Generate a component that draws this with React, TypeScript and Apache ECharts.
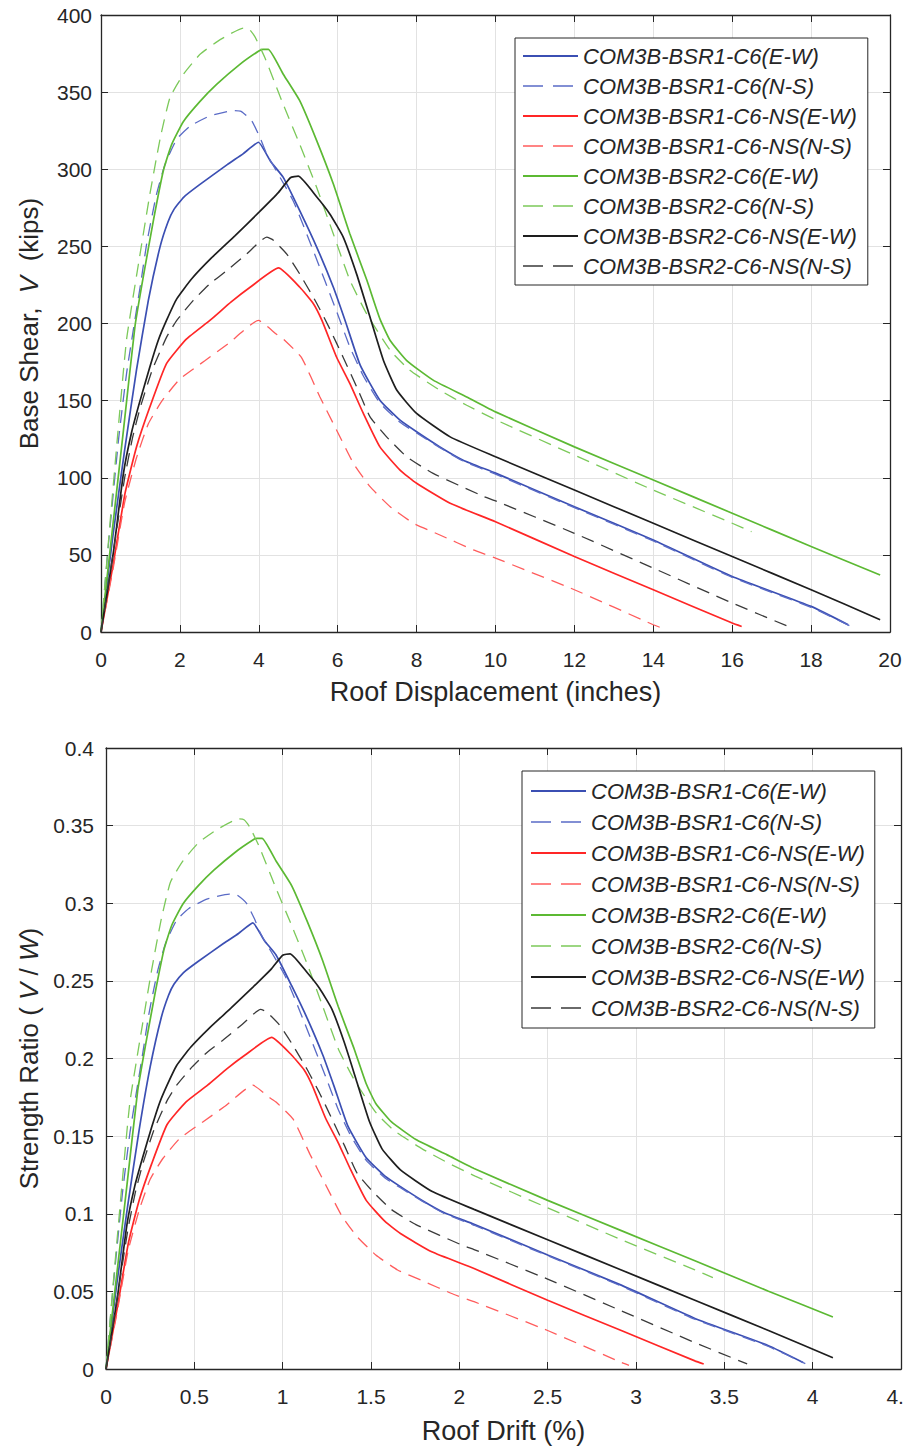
import React, { useEffect, useRef } from "react";
import * as echarts from "echarts";

// ---- Data (top chart: roof displacement [in] vs base shear [kips]) ----
const SERIES_NAMES = [
  "COM3B-BSR1-C6(E-W)",
  "COM3B-BSR1-C6(N-S)",
  "COM3B-BSR1-C6-NS(E-W)",
  "COM3B-BSR1-C6-NS(N-S)",
  "COM3B-BSR2-C6(E-W)",
  "COM3B-BSR2-C6(N-S)",
  "COM3B-BSR2-C6-NS(E-W)",
  "COM3B-BSR2-C6-NS(N-S)",
];

const BSR1_C6_EW: [number, number][] = [
  [0, 0], [0.3, 62], [0.6, 118], [0.9, 170], [1.2, 215], [1.5, 250], [1.7, 266], [1.85, 274],
  [2.1, 282], [2.5, 290], [3.2, 303], [3.6, 310], [3.99, 317.5], [4.3, 305], [4.62, 294.7],
  [5.04, 273], [5.47, 249.4], [5.89, 223.5], [6.2, 201], [6.57, 173], [7.07, 150.3], [7.58, 137.3],
  [8.0, 129.8], [8.59, 120], [9.18, 111.4], [10.0, 103], [12, 81.2], [14, 59.7], [16, 36],
  [18, 16.6], [18.94, 4.7],
];
const BSR1_C6_NS: [number, number][] = [
  [0, 0], [0.2, 60], [0.45, 126], [0.65, 168], [0.82, 196], [1.0, 225], [1.16, 252], [1.4, 283],
  [1.62, 303], [1.92, 319.5], [2.26, 328], [2.76, 334.6], [3.35, 338], [3.55, 337.5], [3.82, 331.4],
  [4.03, 320.6], [4.2, 310], [4.87, 279.6], [5.38, 247.3], [5.97, 208], [6.31, 184.7], [6.65, 166],
  [7.07, 148.5], [7.58, 136], [8.0, 129], [8.59, 119.5], [9.18, 110.8], [10.0, 102.3], [12, 80.6],
  [14, 59], [16, 35.4], [18, 16], [19.0, 3.8],
];
const BSR1_C6_NS_EW: [number, number][] = [
  [0, 0], [0.31, 44], [0.61, 90], [0.9, 120], [1.24, 146], [1.66, 174], [2.17, 190], [2.76, 202],
  [3.3, 214], [3.78, 223.5], [4.5, 236], [5.04, 223.5], [5.38, 213], [5.6, 202], [5.97, 178.3],
  [6.31, 161], [6.65, 141.7], [7.07, 120], [7.58, 105], [8.0, 96.4], [8.85, 83.4], [10.0, 71.5],
  [12, 48.9], [14, 27.4], [16, 5.8], [16.24, 3.6],
];
const BSR1_C6_NS_NS: [number, number][] = [
  [0, 0], [0.3, 40], [0.6, 84], [0.9, 113], [1.2, 135], [1.55, 150], [2.0, 164], [2.64, 176],
  [3.23, 187], [3.99, 202], [4.45, 193], [4.62, 190], [5.08, 178], [5.55, 152.4], [5.97, 131],
  [6.4, 109.3], [6.82, 94.2], [7.33, 81.2], [7.92, 70.5], [8.59, 62.9], [9.44, 53.2], [10.0, 47.9],
  [12, 27.4], [14, 4.7], [14.21, 2.6],
];
const BSR2_C6_EW: [number, number][] = [
  [0, 0], [0.23, 53], [0.57, 131], [0.86, 198], [1.07, 230], [1.33, 267], [1.58, 299], [1.79, 316],
  [2.09, 331], [2.51, 344], [2.93, 355], [3.52, 368], [3.99, 376.5], [4.1, 377.7], [4.24, 377.7],
  [4.62, 361.6], [5.04, 344.3], [5.47, 318.4], [5.89, 290.4], [6.31, 258], [6.74, 228], [7.07, 203],
  [7.33, 189], [7.75, 176], [8.42, 163.3], [9.27, 152.4], [10.0, 142.7], [12, 120], [14, 98.5],
  [16, 77], [18, 55.4], [19.75, 37],
];
const BSR2_C6_NS: [number, number][] = [
  [0, 0], [0.2, 62], [0.44, 133], [0.65, 190], [0.99, 245], [1.24, 284], [1.5, 320], [1.75, 346.5],
  [2.09, 361.6], [2.51, 374.5], [3.02, 384], [3.61, 391.5], [3.75, 391], [3.9, 386], [4.16, 372],
  [4.62, 342], [5.04, 316], [5.47, 288], [5.89, 258], [6.31, 228], [6.74, 206], [7.33, 182.6],
  [7.83, 169.7], [8.59, 156.7], [9.27, 147], [10.03, 137.3], [12, 114.7], [14, 92], [16, 70.5],
  [16.49, 65],
];
const BSR2_C6_NS_EW: [number, number][] = [
  [0, 0], [0.31, 51], [0.57, 103], [0.78, 130], [0.99, 150], [1.24, 172], [1.45, 189], [1.66, 202],
  [1.92, 216], [2.3, 229], [2.8, 242.5], [3.4, 257], [4.0, 272], [4.5, 285], [4.8, 294.5], [5.0, 295.5],
  [5.47, 282], [5.8, 271], [6.14, 256], [6.48, 232], [6.82, 204], [7.16, 176], [7.5, 156.7],
  [8.0, 141.7], [8.85, 126.5], [10.0, 113.6], [12, 92], [14, 70.5], [16, 48.9], [18, 27.4],
  [19.75, 8],
];
const BSR2_C6_NS_NS: [number, number][] = [
  [0, 0], [0.3, 50], [0.6, 100], [0.8, 126], [1.0, 146], [1.3, 170], [1.66, 191], [1.92, 202],
  [2.34, 215], [2.76, 225.7], [3.19, 234.3], [3.69, 245], [4.2, 256], [4.37, 254], [4.71, 245],
  [5.04, 232], [5.47, 213], [5.8, 196.5], [6.14, 178], [6.48, 159], [6.82, 139.5], [7.24, 126.5],
  [7.75, 113.6], [8.42, 102.8], [9.69, 88], [10.0, 85], [12, 64], [14, 41.4], [16, 18.8],
  [17.42, 3.6],
];

// Bottom chart is the same pushover data normalised (drift % = disp / roof height, ratio = V / W)
const ROOF_HEIGHT_IN = 480;
const SEISMIC_WEIGHT_KIPS = 1105;

const SERIES_DATA = [
  BSR1_C6_EW, BSR1_C6_NS, BSR1_C6_NS_EW, BSR1_C6_NS_NS,
  BSR2_C6_EW, BSR2_C6_NS, BSR2_C6_NS_EW, BSR2_C6_NS_NS,
];
const SERIES_COLORS = ["#3b4fb3", "#5a6bc6", "#ff2626", "#ff5c5c", "#5cb933", "#7cc95a", "#1e1e1e", "#3a3a3a"];
const SERIES_DASHED = [false, true, false, true, false, true, false, true];

const FONT = "'Liberation Sans', Arial, Helvetica, sans-serif";
const AX = "#262626";
const GRIDC = "#e2e2e2";

export default function App() {
  const ref = useRef<HTMLDivElement>(null);

  useEffect(() => {
    if (!ref.current) return;
    const chart = echarts.init(ref.current, null, { renderer: "svg" });

    const mainX = (gridIndex: number, min: number, max: number, interval: number, name: string, nameGap: number) => ({
      type: "value",
      gridIndex,
      position: "bottom",
      min,
      max,
      interval,
      name,
      nameLocation: "middle",
      nameGap,
      nameTextStyle: { fontSize: 27, color: AX, fontFamily: FONT },
      axisLine: { show: true, onZero: false, lineStyle: { color: AX, width: 1.3 } },
      axisTick: { show: true, inside: true, length: 7, lineStyle: { color: AX } },
      axisLabel: { fontSize: 21, color: AX, fontFamily: FONT, margin: 17 },
      splitLine: { show: true, lineStyle: { color: GRIDC, width: 1 } },
    });
    const boxX = (gridIndex: number, min: number, max: number, interval: number) => ({
      type: "value",
      gridIndex,
      position: "top",
      min,
      max,
      interval,
      axisLine: { show: true, onZero: false, lineStyle: { color: AX, width: 1.3 } },
      axisTick: { show: true, inside: true, length: 7, lineStyle: { color: AX } },
      axisLabel: { show: false },
      splitLine: { show: false },
    });
    const mainY = (gridIndex: number, min: number, max: number, interval: number, name: string, rich: any, nameGap: number, margin: number) => ({
      type: "value",
      gridIndex,
      position: "left",
      min,
      max,
      interval,
      name,
      nameLocation: "middle",
      nameGap,
      nameTextStyle: { fontSize: 26, color: AX, fontFamily: FONT, rich },
      axisLine: { show: true, onZero: false, lineStyle: { color: AX, width: 1.3 } },
      axisTick: { show: true, inside: true, length: 7, lineStyle: { color: AX } },
      axisLabel: { fontSize: 21, color: AX, fontFamily: FONT, margin },
      splitLine: { show: true, lineStyle: { color: GRIDC, width: 1 } },
    });
    const boxY = (gridIndex: number, min: number, max: number, interval: number) => ({
      type: "value",
      gridIndex,
      position: "right",
      min,
      max,
      interval,
      axisLine: { show: true, onZero: false, lineStyle: { color: AX, width: 1.3 } },
      axisTick: { show: true, inside: true, length: 7, lineStyle: { color: AX } },
      axisLabel: { show: false },
      splitLine: { show: false },
    });

    const rich = {
      n: { fontSize: 26, color: AX, fontFamily: FONT },
      i: { fontSize: 26, color: AX, fontFamily: FONT, fontStyle: "italic" },
    };

    const series: any[] = [];
    SERIES_NAMES.forEach((name, k) => {
      const lineStyle = {
        color: SERIES_COLORS[k],
        width: SERIES_DASHED[k] ? 1.3 : 1.7,
        type: SERIES_DASHED[k] ? [13, 8] : "solid",
      };
      const common = {
        name,
        type: "line",
        symbol: "none",
        showSymbol: false,
        silent: true,
        smooth: 0.15,
        color: SERIES_COLORS[k],
        lineStyle,
      };
      series.push({ ...common, xAxisIndex: 0, yAxisIndex: 0, data: SERIES_DATA[k] });
      series.push({
        ...common,
        xAxisIndex: 2,
        yAxisIndex: 2,
        data: SERIES_DATA[k].map(([d, v]) => [(d / ROOF_HEIGHT_IN) * 100, v / SEISMIC_WEIGHT_KIPS]),
      });
    });

    const legendData = SERIES_NAMES.map((name, k) => ({
      name,
      itemStyle: { opacity: 0, color: "transparent", borderColor: "transparent", borderWidth: 0 },
      lineStyle: SERIES_DASHED[k]
        ? { type: [20, 10], width: 1.3, color: SERIES_COLORS[k], opacity: 1 }
        : { width: 2, color: SERIES_COLORS[k], opacity: 1 },
    }));
    const legendBase = {
      data: legendData,
      orient: "vertical",
      itemWidth: 55,
      itemHeight: 14,
      selectedMode: false,
      borderColor: AX,
      borderWidth: 1,
      backgroundColor: "#ffffff",
      textStyle: { fontSize: 22, fontStyle: "italic", color: AX, fontFamily: FONT },
    };

    const option: any = {
      animation: false,
      backgroundColor: "#ffffff",
      grid: [
        { left: 101, top: 15, width: 789, height: 617, outerBoundsMode: "none", containLabel: false },
        { left: 106, top: 748, width: 795, height: 621, outerBoundsMode: "none", containLabel: false },
      ],
      xAxis: [
        mainX(0, 0, 20, 2, "Roof Displacement (inches)", 46),
        boxX(0, 0, 20, 2),
        mainX(1, 0, 4.5, 0.5, "Roof Drift (%)", 48),
        boxX(1, 0, 4.5, 0.5),
      ],
      yAxis: [
        mainY(0, 0, 400, 50, "{n|Base Shear,  }{i|V}{n|  (kips)}", rich, 59, 9),
        boxY(0, 0, 400, 50),
        mainY(1, 0, 0.4, 0.05, "{n|Strength Ratio ( }{i|V}{n| / }{i|W}{n|)}", rich, 64, 12),
        boxY(1, 0, 0.4, 0.05),
      ],
      legend: [
        { ...legendBase, left: 515, top: 38, itemGap: 8, padding: [7, 11, 8, 7] },
        { ...legendBase, left: 522, top: 771, itemGap: 9, padding: [9, 10, 9, 8] },
      ],
      series,
    };

    chart.setOption(option);
    return () => chart.dispose();
  }, []);

  return (
    <div
      ref={ref}
      style={{ position: "absolute", left: 0, top: 0, width: 904, height: 1449, background: "#ffffff" }}
    />
  );
}
